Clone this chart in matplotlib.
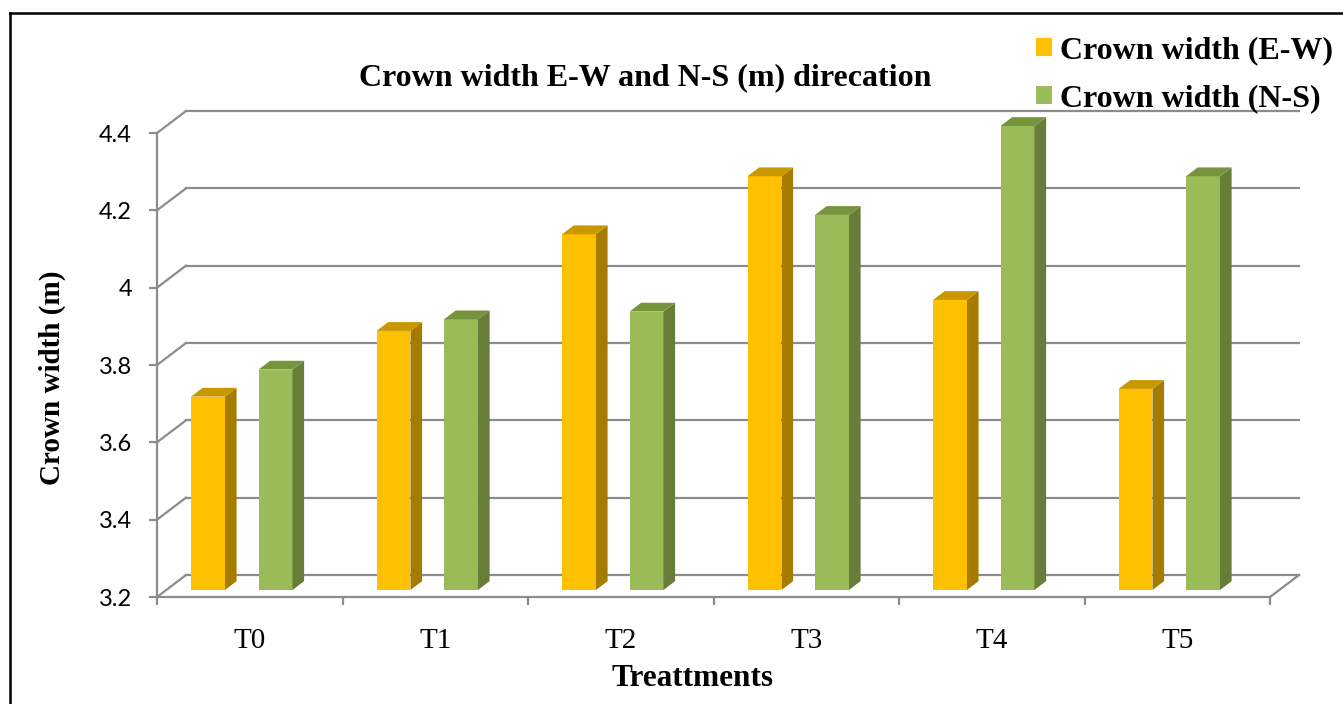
import numpy as np
import matplotlib.pyplot as plt
from matplotlib.patches import Polygon, Patch
from matplotlib.lines import Line2D

# data
categories = ['T0', 'T1', 'T2', 'T3', 'T4', 'T5']
ew_values = [3.70, 3.87, 4.12, 4.27, 3.95, 3.72]
ns_values = [3.77, 3.90, 3.92, 4.17, 4.40, 4.27]
y_ticks = [3.2, 3.4, 3.6, 3.8, 4.0, 4.2, 4.4]
y_tick_labels = ['3.2', '3.4', '3.6', '3.8', '4', '4.2', '4.4']

W, H = 1343, 704
fig = plt.figure(figsize=(W / 100, H / 100), dpi=100)

# front plane of the pseudo-3d plot, in pixels
x0p, x1p, y0p, y1p = 157, 1270, 597, 133
ax = fig.add_axes([x0p / W, 1 - y0p / H, (x1p - x0p) / W, (y0p - y1p) / H])
ax.set_xlim(0, 6)
ax.set_ylim(3.2, 4.4)

# depth offset (back wall) in data units
px_x = 6 / (x1p - x0p)
px_y = 1.2 / (y0p - y1p)
DX, DY = 29 * px_x, 22 * px_y
grid_c = '#8C8C8C'

# back wall gridlines + side wall diagonals
for yt in y_ticks:
    ax.plot([DX, 6 + DX], [yt + DY, yt + DY], color=grid_c, lw=1.6, clip_on=False, zorder=1)
    ax.plot([0, DX], [yt, yt + DY], color=grid_c, lw=1.6, clip_on=False, zorder=1)
# floor right edge
ax.plot([6, 6 + DX], [3.2, 3.2 + DY], color=grid_c, lw=1.6, clip_on=False, zorder=1)

# bars
f0, fd = 0.32, 0.40
bw = 0.183
offsets = [0.225, 0.589]
series = [
    (ew_values, '#FFC000', '#C99700', '#A67C00'),
    (ns_values, '#9BBB59', '#77933C', '#687D3A'),
]
for (vals, c_front, c_top, c_side), off in zip(series, offsets):
    for i, v in enumerate(vals):
        xa = i + off - bw / 2 + f0 * DX
        xb = xa + bw
        base = 3.2 + f0 * DY
        top = v + f0 * DY
        ddx, ddy = fd * DX, fd * DY
        ax.add_patch(Polygon([(xa, base), (xb, base), (xb, top), (xa, top)],
                             closed=True, fc=c_front, ec='none', zorder=3, clip_on=False))
        ax.add_patch(Polygon([(xb, base), (xb + ddx, base + ddy), (xb + ddx, top + ddy), (xb, top)],
                             closed=True, fc=c_side, ec='none', zorder=3, clip_on=False))
        ax.add_patch(Polygon([(xa, top), (xb, top), (xb + ddx, top + ddy), (xa + ddx, top + ddy)],
                             closed=True, fc=c_top, ec='none', zorder=3, clip_on=False))

# axes styling
for s in ['top', 'right']:
    ax.spines[s].set_visible(False)
for s in ['left', 'bottom']:
    ax.spines[s].set_color(grid_c)
    ax.spines[s].set_linewidth(1.6)
ax.set_facecolor('none')
ax.set_yticks(y_ticks)
ax.set_yticklabels(y_tick_labels, fontfamily='Lato', fontsize=17)
ax.tick_params(axis='y', length=6, width=1.6, color=grid_c, pad=12)
ax.set_xticks(np.arange(0, 7))
ax.set_xticklabels([])
ax.set_xticks(np.arange(len(categories)) + 0.5, minor=True)
ax.set_xticklabels(categories, minor=True, fontfamily='Liberation Serif', fontsize=21)
ax.tick_params(axis='x', which='major', length=6, width=1.6, color=grid_c)
ax.tick_params(axis='x', which='minor', length=0, pad=22)

# texts
fig.text(645 / W, 1 - 78 / H, 'Crown width E-W and N-S (m) direcation',
         ha='center', va='center', fontfamily='Liberation Serif', fontweight='bold', fontsize=23)
fig.text(692 / W, 1 - 679 / H, 'Treattments', ha='center', va='center',
         fontfamily='Liberation Serif', fontweight='bold', fontsize=22.5)
fig.text(52 / W, 1 - 378 / H, 'Crown width (m)', ha='center', va='center', rotation=90,
         fontfamily='Liberation Serif', fontweight='bold', fontsize=21)

# legend
handles = [Patch(fc='#FFC000', ec='none'), Patch(fc='#9BBB59', ec='none')]
fig.legend(handles, ['Crown width (E-W)', 'Crown width (N-S)'], loc='upper right',
           bbox_to_anchor=(1.0, 1 - 27 / H), frameon=False,
           prop={'family': 'Liberation Serif', 'weight': 'bold', 'size': 23},
           handlelength=0.5, handleheight=0.5, handletextpad=0.25, labelspacing=0.58,
           borderaxespad=0, borderpad=0.3)

# outer frame
fig.add_artist(Line2D([10 / W, 10 / W], [0, 1 - 13 / H], color='black', lw=1.8))
fig.add_artist(Line2D([10 / W, 1], [1 - 13 / H, 1 - 13 / H], color='black', lw=1.8))

fig.savefig('out.png', dpi=100)
